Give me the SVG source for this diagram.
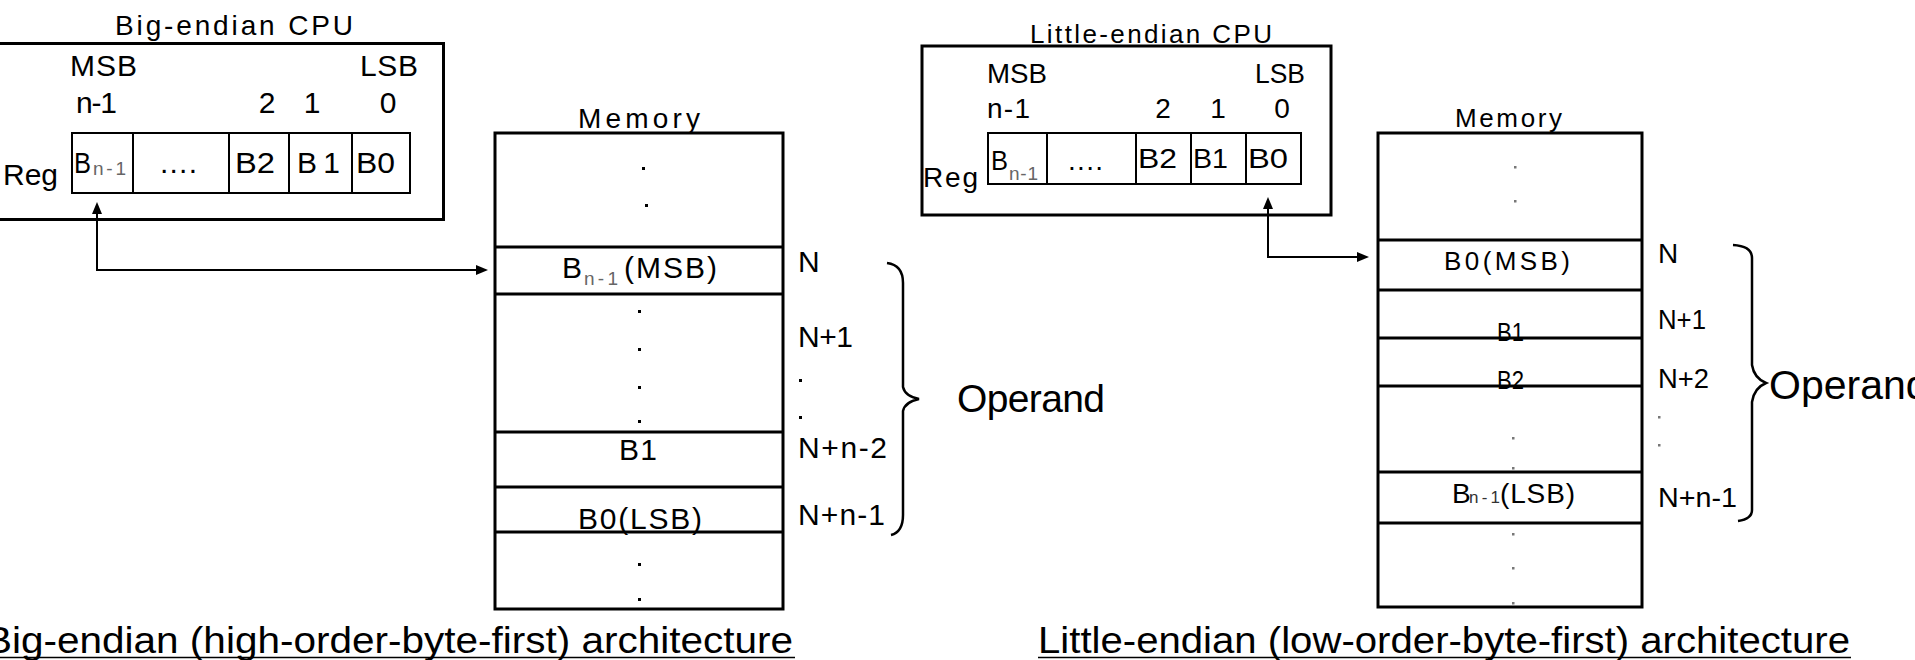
<svg xmlns="http://www.w3.org/2000/svg" width="1915" height="660" viewBox="0 0 1915 660">
<defs>
<style>
text{font-family:"Liberation Sans",Arial,sans-serif;fill:#000;}
.t28{font-size:28px;}
.t30{font-size:30px;}
.t26{font-size:26px;}
.sub{font-size:19px;fill:#666;}
.cap{font-size:37px;}
.op{font-size:39px;}
.box{fill:none;stroke:#000;stroke-width:3;}
.reg{fill:none;stroke:#000;stroke-width:2;}
.ln{stroke:#000;stroke-width:3;}
.rl{stroke:#000;stroke-width:2;}
.brace{fill:none;stroke:#000;stroke-width:2.5;}
.conn{fill:none;stroke:#000;stroke-width:2;}
.dot{fill:#000;}
.gdot{fill:#777;}
.ul{stroke:#000;stroke-width:1.5;}
</style>
<marker id="ah" markerWidth="12" markerHeight="12" refX="0" refY="6" orient="auto-start-reverse" markerUnits="userSpaceOnUse">
<path d="M0,1 L12,6 L0,11 z" fill="#000"/>
</marker>
</defs>

<!-- LEFT: Big-endian -->
<g id="big-cpu">
<rect class="box" x="-2" y="43.5" width="445.5" height="176"/>
<text class="t28" x="115" y="35" textLength="238" lengthAdjust="spacing">Big-endian CPU</text>
<text class="t30" x="70" y="76" textLength="67" lengthAdjust="spacing">MSB</text>
<text class="t30" x="360" y="76" textLength="58" lengthAdjust="spacing">LSB</text>
<text class="t30" x="76" y="113" textLength="41" lengthAdjust="spacing">n-1</text>
<text class="t30" x="267" y="113" text-anchor="middle">2</text>
<text class="t30" x="312" y="113" text-anchor="middle">1</text>
<text class="t30" x="388" y="113" text-anchor="middle">0</text>
<text class="t30" x="3" y="185" textLength="55" lengthAdjust="spacing">Reg</text>
</g>
<g id="big-reg">
<rect class="reg" x="72" y="133" width="338" height="60"/>
<line class="rl" x1="133" y1="133" x2="133" y2="193"/>
<line class="rl" x1="229" y1="133" x2="229" y2="193"/>
<line class="rl" x1="289" y1="133" x2="289" y2="193"/>
<line class="rl" x1="352" y1="133" x2="352" y2="193"/>
<text class="t30" x="74" y="173" textLength="17" lengthAdjust="spacingAndGlyphs">B</text>
<text class="sub" x="93" y="175" textLength="33" lengthAdjust="spacing">n-1</text>
<text class="t30" x="160" y="173" textLength="37" lengthAdjust="spacing">....</text>
<text class="t30" x="235" y="173" textLength="40" lengthAdjust="spacingAndGlyphs">B2</text>
<text class="t30" x="297" y="173" textLength="43" lengthAdjust="spacing">B1</text>
<text class="t30" x="356" y="173" textLength="39" lengthAdjust="spacingAndGlyphs">B0</text>
</g>
<g id="big-mem">
<rect class="box" x="495" y="133" width="288" height="476"/>
<text class="t28" x="578" y="128" textLength="122" lengthAdjust="spacing">Memory</text>
<rect class="dot" x="642" y="167" width="3" height="3"/>
<rect class="dot" x="645" y="204" width="3" height="3"/>
<text class="t30" x="562" y="278">B</text>
<text class="sub" x="584" y="285" textLength="34" lengthAdjust="spacing">n-1</text>
<text class="t30" x="624" y="278" textLength="93" lengthAdjust="spacing">(MSB)</text>
<rect class="dot" x="638" y="310" width="3" height="3"/>
<rect class="dot" x="638" y="348" width="3" height="3"/>
<rect class="dot" x="638" y="386" width="3" height="3"/>
<rect class="dot" x="638" y="420" width="3" height="3"/>
<text class="t30" x="619" y="460" textLength="38" lengthAdjust="spacing">B1</text>
<text class="t30" x="578" y="529" textLength="124" lengthAdjust="spacing">B0(LSB)</text>
<rect class="dot" x="638" y="563" width="3" height="3"/>
<rect class="dot" x="638" y="598" width="3" height="3"/>
<line class="ln" x1="495" y1="247" x2="783" y2="247"/>
<line class="ln" x1="495" y1="294" x2="783" y2="294"/>
<line class="ln" x1="495" y1="432" x2="783" y2="432"/>
<line class="ln" x1="495" y1="487" x2="783" y2="487"/>
<line class="ln" x1="495" y1="532" x2="783" y2="532"/>
</g>
<g id="big-addr">
<text class="t30" x="798" y="272">N</text>
<text class="t30" x="798" y="347" textLength="55" lengthAdjust="spacing">N+1</text>
<rect class="dot" x="799" y="379" width="3" height="3"/>
<rect class="dot" x="799" y="416" width="3" height="3"/>
<text class="t30" x="798" y="458" textLength="89" lengthAdjust="spacing">N+n-2</text>
<text class="t30" x="798" y="525" textLength="87" lengthAdjust="spacing">N+n-1</text>
</g>
<g id="big-operand">
<path class="brace" d="M887,263 Q903,265 903,283 L903,387 Q905,396 919,399 Q905,402 903,411 L903,515 Q903,532 891,535"/>
<text class="op" x="957" y="412" textLength="148" lengthAdjust="spacing">Operand</text>
</g>
<g id="big-caption">
<text class="cap" x="-15" y="653" textLength="808" lengthAdjust="spacingAndGlyphs">Big-endian (high-order-byte-first) architecture</text>
<line class="ul" x1="0" y1="657.5" x2="795" y2="657.5"/>
</g>

<!-- RIGHT: Little-endian -->
<g id="little-cpu">
<rect class="box" x="922" y="46" width="409" height="169"/>
<text class="t26" x="1030" y="43" textLength="242" lengthAdjust="spacing">Little-endian CPU</text>
<text class="t28" x="987" y="83" textLength="60" lengthAdjust="spacingAndGlyphs">MSB</text>
<text class="t28" x="1255" y="83" textLength="50" lengthAdjust="spacingAndGlyphs">LSB</text>
<text class="t28" x="987" y="118" textLength="43" lengthAdjust="spacing">n-1</text>
<text class="t28" x="1163" y="118" text-anchor="middle">2</text>
<text class="t28" x="1218" y="118" text-anchor="middle">1</text>
<text class="t28" x="1282" y="118" text-anchor="middle">0</text>
<text class="t28" x="923" y="187" textLength="55" lengthAdjust="spacing">Reg</text>
</g>
<g id="little-reg">
<rect class="reg" x="988" y="133" width="313" height="51"/>
<line class="rl" x1="1047" y1="133" x2="1047" y2="184"/>
<line class="rl" x1="1136" y1="133" x2="1136" y2="184"/>
<line class="rl" x1="1191" y1="133" x2="1191" y2="184"/>
<line class="rl" x1="1246" y1="133" x2="1246" y2="184"/>
<text class="t28" x="991" y="170" textLength="17" lengthAdjust="spacingAndGlyphs">B</text>
<text class="sub" x="1009" y="180" textLength="29" lengthAdjust="spacing">n-1</text>
<text class="t28" x="1068" y="170" textLength="35" lengthAdjust="spacing">....</text>
<text class="t28" x="1138" y="168" textLength="39" lengthAdjust="spacingAndGlyphs">B2</text>
<text class="t28" x="1193" y="168" textLength="35" lengthAdjust="spacingAndGlyphs">B1</text>
<text class="t28" x="1248" y="168" textLength="40" lengthAdjust="spacingAndGlyphs">B0</text>
</g>
<g id="little-mem">
<rect class="box" x="1378" y="133" width="264" height="474"/>
<text class="t26" x="1455" y="127" textLength="107" lengthAdjust="spacing">Memory</text>
<rect class="gdot" x="1514" y="166" width="2.5" height="2.5"/>
<rect class="gdot" x="1514" y="200" width="2.5" height="2.5"/>
<text class="t26" x="1444" y="270" textLength="126" lengthAdjust="spacing">B0(MSB)</text>
<text class="t26" x="1497" y="341" textLength="27" lengthAdjust="spacingAndGlyphs">B1</text>
<text class="t26" x="1497" y="389" textLength="27" lengthAdjust="spacingAndGlyphs">B2</text>
<rect class="gdot" x="1512" y="437" width="2.5" height="2.5"/>
<rect class="gdot" x="1512" y="467" width="2.5" height="2.5"/>
<text class="t28" x="1452" y="503">B</text>
<text style="font-size:17px;fill:#333" x="1469" y="503" textLength="31" lengthAdjust="spacing">n-1</text>
<text class="t28" x="1500" y="503" textLength="75" lengthAdjust="spacing">(LSB)</text>
<rect class="gdot" x="1512" y="533" width="2.5" height="2.5"/>
<rect class="gdot" x="1512" y="567" width="2.5" height="2.5"/>
<rect class="gdot" x="1512" y="602" width="2.5" height="2.5"/>
<line class="ln" x1="1378" y1="240" x2="1642" y2="240"/>
<line class="ln" x1="1378" y1="290" x2="1642" y2="290"/>
<line class="ln" x1="1378" y1="338" x2="1642" y2="338"/>
<line class="ln" x1="1378" y1="386" x2="1642" y2="386"/>
<line class="ln" x1="1378" y1="472" x2="1642" y2="472"/>
<line class="ln" x1="1378" y1="523" x2="1642" y2="523"/>
</g>
<g id="little-addr">
<text class="t28" x="1658" y="263">N</text>
<text class="t28" x="1658" y="329" textLength="48" lengthAdjust="spacingAndGlyphs">N+1</text>
<text class="t28" x="1658" y="388" textLength="51" lengthAdjust="spacingAndGlyphs">N+2</text>
<rect class="gdot" x="1658" y="416" width="2.5" height="2.5"/>
<rect class="gdot" x="1658" y="444" width="2.5" height="2.5"/>
<text class="t28" x="1658" y="507" textLength="79" lengthAdjust="spacingAndGlyphs">N+n-1</text>
</g>
<g id="little-operand">
<path class="brace" d="M1733,245 Q1752,246 1752,258 L1752,365 Q1754,378 1766,383 Q1754,388 1752,402 L1752,510 Q1752,519 1738,521"/>
<text class="op" x="1769" y="399" style="font-size:41px">Operand</text>
</g>
<g id="little-caption">
<text class="cap" x="1038" y="653" textLength="812" lengthAdjust="spacingAndGlyphs">Little-endian (low-order-byte-first) architecture</text>
<line class="ul" x1="1038" y1="657.5" x2="1851" y2="657.5"/>
</g>

<g id="connectors">
<path class="conn" d="M97,214 V270 H476" marker-start="url(#ah)" marker-end="url(#ah)"/>
<path class="conn" d="M1268,209 V257 H1357" marker-start="url(#ah)" marker-end="url(#ah)"/>
</g>
</svg>
